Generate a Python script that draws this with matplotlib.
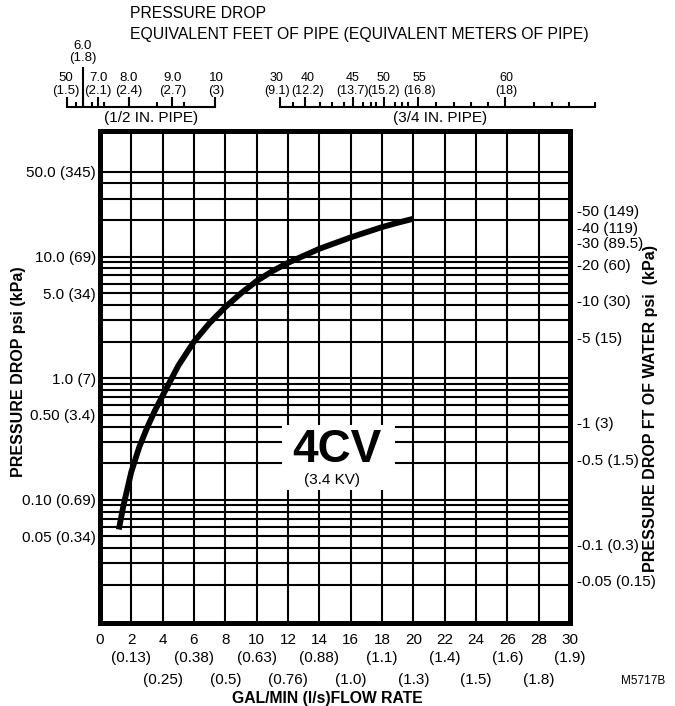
import matplotlib
matplotlib.use('Agg')
import matplotlib.pyplot as plt
import matplotlib.transforms as mtransforms
from matplotlib.ticker import NullFormatter, NullLocator
from matplotlib.patches import Rectangle

plt.rcParams['font.family'] = ['Liberation Sans', 'DejaVu Sans']

# flow curve for the 4CV valve (gal/min, psi)
flow_gpm = [1.2, 1.5, 2.0, 2.5, 3.0, 3.5, 4.0, 5.0, 6.0, 7.0, 8.0, 9.0, 10.0,
            11.0, 12.0, 14.0, 16.0, 18.0, 19.0, 20.0]
drop_psi = [0.057, 0.09, 0.17, 0.27, 0.39, 0.54, 0.72, 1.27, 2.0, 2.85, 3.85, 5.0, 6.3,
            7.6, 8.9, 11.6, 14.4, 17.5, 19.0, 20.5]

# bottom axis
gpm_ticks = [0, 2, 4, 6, 8, 10, 12, 14, 16, 18, 20, 22, 24, 26, 28, 30]
lps_labels = ['', '(0.13)', '(0.25)', '(0.38)', '(0.5)', '(0.63)', '(0.76)', '(0.88)',
              '(1.0)', '(1.1)', '(1.3)', '(1.4)', '(1.5)', '(1.6)', '(1.8)', '(1.9)']

# left axis (psi with kPa)
psi_ticks = [50, 10, 5, 1, 0.5, 0.1, 0.05]
psi_labels = ['50.0 (345)', '10.0 (69)', '5.0 (34)', '1.0 (7)', '0.50 (3.4)',
              '0.10 (0.69)', '0.05 (0.34)']
psi_grid = [0.02, 0.03, 0.04, 0.05, 0.06, 0.07, 0.08, 0.09,
            0.1, 0.2, 0.3, 0.4, 0.5, 0.6, 0.7, 0.8, 0.9,
            1, 2, 3, 4, 5, 6, 7, 8, 9, 10, 20, 30, 40, 50]

# right axis (feet of water with kPa)
ft_ticks = [50, 40, 30, 20, 10, 5, 1, 0.5, 0.1, 0.05]
ft_labels = ['-50 (149)', '-40 (119)', '-30 (89.5)', '-20 (60)', '-10 (30)', '-5 (15)',
             '-1 (3)', '-0.5 (1.5)', '-0.1 (0.3)', '-0.05 (0.15)']
FT_PER_PSI = 2.31

# equivalent pipe length scales (position in % along each scale line)
half_pos = [0, 11.1, 21.3, 41.8, 70.8, 100]
half_lab = ['50\n(1.5)', '6.0\n(1.8)', '7.0\n(2.1)', '8.0\n(2.4)', '9.0\n(2.7)', '10\n(3)']
half_minor = [5.8, 16.7, 24.8, 60.8, 78.9]
threeq_pos = [0, 8.07, 23.2, 32.9, 43.9, 71.6]
threeq_lab = ['30\n(9.1)', '40\n(12.2)', '45\n(13.7)', '50\n(15.2)', '55\n(16.8)', '60\n(18)']
threeq_minor = [4.1, 12.6, 16.4, 20.4, 26.3, 28.8, 30.4, 36.6, 38.7, 40.8, 49.7,
                55.2, 60.6, 66.1, 80.8, 86.3, 91.8, 100]

W, H = 675, 706
fig = plt.figure(figsize=(W / 100, H / 100), dpi=100)

def fx(px):
    return px / W

def fy(py):
    return 1 - py / H

ax = fig.add_axes([fx(100), fy(623), fx(470), 492 / H])
ax.set_yscale('log')
ax.set_xlim(0, 30)
ax.set_ylim(0.0097, 108)

ax.plot(flow_gpm, drop_psi, color='black', lw=4.2, solid_capstyle='butt',
        solid_joinstyle='round', zorder=5)

# grid (keep minor lines even where a labelled tick sits)
ax.xaxis.remove_overlapping_locs = False
ax.yaxis.remove_overlapping_locs = False
ax.set_xticks(gpm_ticks[1:-1], minor=True)
ax.set_yticks(psi_grid, minor=True)
ax.yaxis.set_minor_formatter(NullFormatter())
ax.grid(which='minor', color='black', lw=1.5)
ax.set_axisbelow(True)

ax.set_xticks(gpm_ticks, labels=[str(g) for g in gpm_ticks], fontsize=11)
ax.set_yticks(psi_ticks, labels=psi_labels, fontsize=11)
ax.tick_params(which='both', length=0)
ax.tick_params(axis='x', pad=7)
ax.tick_params(axis='y', pad=3)
for s in ax.spines.values():
    s.set_linewidth(3.6)

# l/s values in two staggered rows under the gal/min numbers
xtrans = mtransforms.blended_transform_factory(ax.transData, ax.transAxes)
for i, (g, l) in enumerate(zip(gpm_ticks, lps_labels)):
    if not l:
        continue
    row_y = -0.0711 if i % 2 == 1 else -0.1159
    ax.text(g, row_y, l, transform=xtrans, ha='center', va='center', fontsize=11)

sec = ax.secondary_yaxis('right', functions=(lambda p: p * FT_PER_PSI,
                                             lambda f: f / FT_PER_PSI))
sec.set_yticks(ft_ticks, labels=ft_labels, fontsize=11)
sec.yaxis.set_minor_locator(NullLocator())
sec.tick_params(length=0, pad=5)
sec.spines['right'].set_visible(False)
# the top label sits a little higher in the original, clear of its neighbour
top_lab = sec.yaxis.get_major_ticks()[0].label2
top_lab.set_transform(top_lab.get_transform() +
                      mtransforms.ScaledTranslation(0, 4 / 72, fig.dpi_scale_trans))

# valve name box
ax.add_patch(Rectangle((0.387, 0.27), 0.241, 0.132, transform=ax.transAxes,
                       facecolor='white', edgecolor='none', zorder=3))
ax.text(0.504, 0.352, '4CV', transform=ax.transAxes, fontsize=33, fontweight='bold',
        ha='center', va='center', zorder=4)
ax.text(0.494, 0.29, '(3.4 KV)', transform=ax.transAxes, fontsize=11,
        ha='center', va='center', zorder=4)

# pipe scales on top
def pipe_scale(x0, x1, pos, labels, minor, name, name_x, size):
    pa = fig.add_axes([fx(x0), fy(106.7), fx(x1 - x0), 66.7 / H])
    pa.set_xlim(0, 100)
    pa.set_ylim(0, 1)
    pa.patch.set_visible(False)
    for k in ('top', 'left', 'right'):
        pa.spines[k].set_visible(False)
    pa.spines['bottom'].set_linewidth(1.5)
    pa.set_yticks([])
    pa.set_xticks(pos)
    pa.set_xticks(minor, minor=True)
    pa.tick_params(which='both', direction='in', labelbottom=False, width=1.5)
    pa.tick_params(which='major', length=7.2)
    pa.tick_params(which='minor', length=3.6)
    n = len(pos)
    for k, (p, lab) in enumerate(zip(pos, labels)):
        # spread crowded labels a touch apart, as in the original drawing
        shift = (k - (n - 1) / 2) * 0.4
        tr = pa.transData + mtransforms.ScaledTranslation(shift / 72, 0, fig.dpi_scale_trans)
        pa.text(p, 0.15, lab, ha='center', va='bottom', fontsize=size, linespacing=1.05,
                transform=tr)
    fig.text(fx(name_x), fy(118), name, ha='center', va='center', fontsize=11)
    return pa

pa1 = pipe_scale(67, 214.7, half_pos, half_lab, half_minor, '(1/2 IN. PIPE)', 151, 9.5)
# the 6.0 mark stands taller with its label above the others
pa1.vlines(half_pos[1], 0, 0.6, color='black', lw=1.5)
pa1.texts[1].set_y(0.64)
pa2 = pipe_scale(280, 594.8, threeq_pos, threeq_lab, threeq_minor, '(3/4 IN. PIPE)', 440, 9)
pa2.texts[0].set_x(threeq_pos[0] - 0.6)
pa2.texts[1].set_x(threeq_pos[1] + 0.9)

fig.text(fx(129.6), fy(14), 'PRESSURE DROP', fontsize=11.3, va='center')
fig.text(fx(129.6), fy(34), 'EQUIVALENT FEET OF PIPE (EQUIVALENT METERS OF PIPE)',
         fontsize=11.3, va='center')

fig.text(fx(19), fy(372), 'PRESSURE DROP psi (kPa)', rotation=90, fontsize=11.5,
         fontweight='bold', ha='center', va='center')
fig.text(fx(651), fy(408), 'PRESSURE DROP FT OF WATER psi  (kPa)', rotation=90,
         fontsize=11.5, fontweight='bold', ha='center', va='center')
fig.text(fx(327.6), fy(699), 'GAL/MIN (l/s)FLOW RATE', fontsize=11.3,
         fontweight='bold', ha='center', va='center')
fig.text(fx(643), fy(680.5), 'M5717B', fontsize=8.5, ha='center', va='center')

fig.savefig('out.png', dpi=100)
